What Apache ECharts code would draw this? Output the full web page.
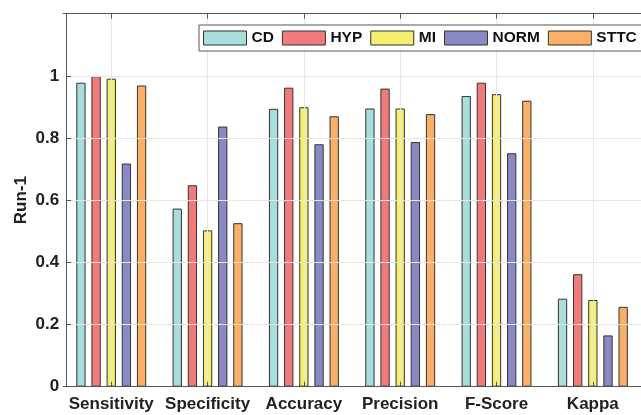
<!DOCTYPE html>
<html>
<head>
<meta charset="utf-8">
<script src="https://cdn.jsdelivr.net/npm/echarts@6/dist/echarts.min.js"></script>
<style>
html,body{margin:0;padding:0;background:#fff;}
#chart{width:641px;height:415px;}
</style>
</head>
<body>
<div id="chart"></div>
<script>
const categories = ['Sensitivity', 'Specificity', 'Accuracy', 'Precision', 'F-Score', 'Kappa'];
const seriesNames = ['CD', 'HYP', 'MI', 'NORM', 'STTC'];
const cdValues   = [0.978, 0.573, 0.894, 0.895, 0.935, 0.283];
const hypValues  = [0.999, 0.648, 0.962, 0.959, 0.978, 0.362];
const miValues   = [0.991, 0.503, 0.899, 0.895, 0.941, 0.279];
const normValues = [0.718, 0.837, 0.780, 0.787, 0.751, 0.165];
const sttcValues = [0.969, 0.526, 0.870, 0.877, 0.920, 0.257];
const yTicks = [0, 0.2, 0.4, 0.6, 0.8, 1, 1.2];

const colors = ['#a9dcdd', '#f27a7a', '#f5ee6e', '#8989c4', '#fcb067'];
const allValues = [cdValues, hypValues, miValues, normValues, sttcValues];
const FONT = '"Liberation Sans", Arial, Helvetica, sans-serif';

const chart = echarts.init(document.getElementById('chart'), null, {renderer: 'canvas'});

const series = seriesNames.map((name, i) => ({
  name: name,
  type: 'bar',
  data: allValues[i],
  barWidth: 9.3,
  barGap: '63%',
  itemStyle: { color: colors[i], borderColor: '#333333', borderWidth: 1 },
  emphasis: { disabled: true }
}));

const axisColor = '#555555';

chart.setOption({
  animation: false,
  backgroundColor: '#ffffff',
  textStyle: { fontFamily: FONT },
  legend: {
    data: seriesNames,
    left: 199,
    top: 25,
    width: 460,
    orient: 'horizontal',
    padding: [5, 5, 5, 4],
    itemWidth: 43,
    itemHeight: 14,
    itemGap: 8,
    backgroundColor: '#ffffff',
    borderColor: '#555555',
    borderWidth: 1,
    icon: 'rect',
    itemStyle: { borderColor: '#333333', borderWidth: 1 },
    textStyle: { fontFamily: FONT, fontWeight: 'bold', fontSize: 15.5, color: '#111' },
    selectedMode: false,
    z: 10
  },
  grid: { left: 63.1, top: 13.7, width: 590.1, height: 373, show: false },
  xAxis: [{
    type: 'category',
    data: categories,
    position: 'bottom',
    z: 5,
    axisLine: { show: true, lineStyle: { color: axisColor, width: 1 } },
    axisTick: { show: true, inside: true, length: 5, alignWithLabel: true, lineStyle: { color: axisColor } },
    axisLabel: { fontFamily: FONT, fontWeight: 'bold', fontSize: 17, color: '#222', margin: 9, interval: 0 },
    splitLine: { show: true, alignWithLabel: true, lineStyle: { color: '#e6e6e6', width: 1 } }
  }, {
    type: 'category',
    data: categories,
    position: 'top',
    z: 5,
    axisLine: { show: true, lineStyle: { color: axisColor, width: 1 } },
    axisTick: { show: true, inside: true, length: 5, alignWithLabel: true, lineStyle: { color: axisColor } },
    axisLabel: { show: false },
    splitLine: { show: false }
  }],
  yAxis: {
    type: 'value',
    min: yTicks[0],
    max: yTicks[yTicks.length - 1],
    interval: 0.2,
    offset: -3,
    z: 5,
    name: 'Run-1',
    nameLocation: 'middle',
    nameGap: 36,
    nameMoveOverlap: false,
    nameTextStyle: { fontFamily: FONT, fontWeight: 'bold', fontSize: 17, color: '#222' },
    axisLine: { show: true, lineStyle: { color: axisColor, width: 1 } },
    axisTick: { show: true, inside: true, length: 5, lineStyle: { color: axisColor } },
    axisLabel: { fontFamily: FONT, fontWeight: 'bold', fontSize: 17, color: '#222', margin: 7, showMaxLabel: false,
      formatter: v => String(Math.round(v * 10) / 10) },
    splitLine: { show: true, lineStyle: { color: '#e6e6e6', width: 1 } }
  },
  series: series
});
</script>
</body>
</html>
